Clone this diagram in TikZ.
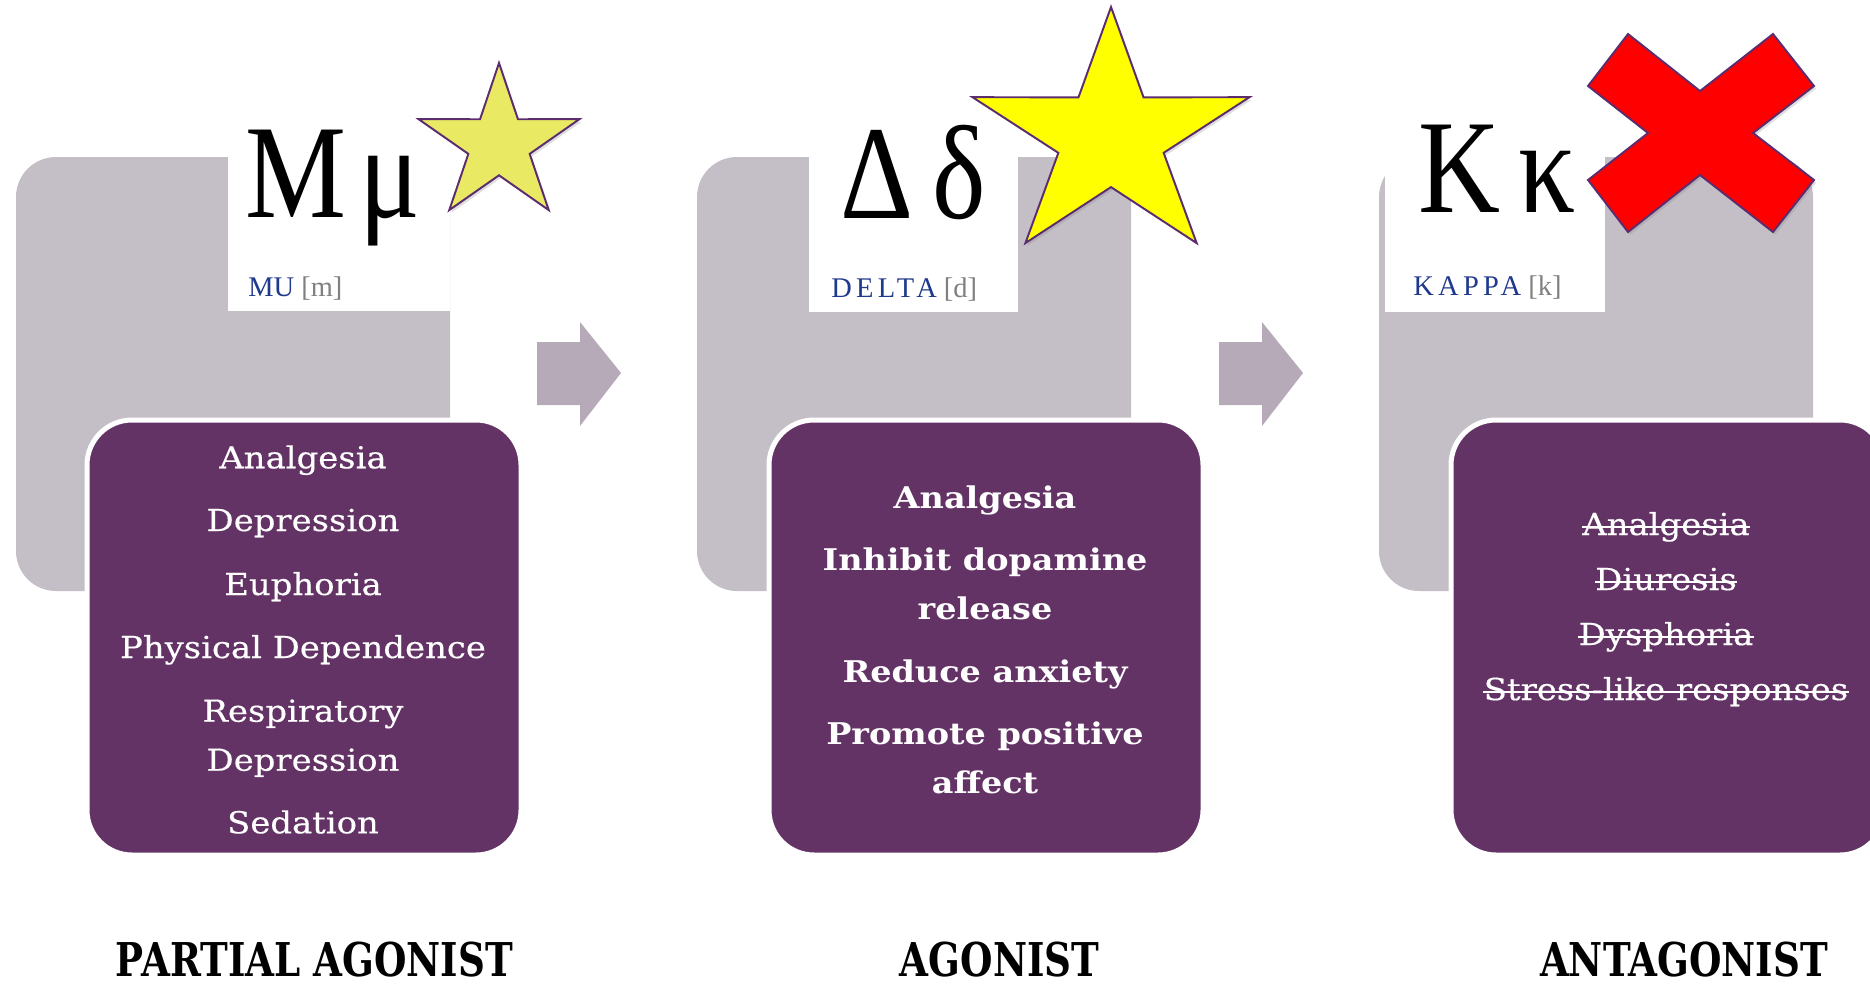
\documentclass[tikz,border=0pt]{standalone}
\usepackage{fontspec}
\setmainfont{DejaVu Serif}
\newfontfamily\slabfont[FakeStretch=1.12, UprightFeatures={FakeBold=0.4}]{DejaVu Serif}
\newfontfamily\greekfont[FakeStretch=0.85]{Liberation Serif}
\newfontfamily\capfont{Liberation Serif}
\newfontfamily\spacedfont[LetterSpace=15]{Liberation Serif}
\newfontfamily\condfont[FakeStretch=0.8]{DejaVu Serif}
\usetikzlibrary{shadows}
\definecolor{greyc}{RGB}{196,190,198}
\definecolor{arrowc}{RGB}{182,170,185}
\definecolor{purplec}{RGB}{100,51,102}
\definecolor{edgec}{RGB}{92,45,110}
\definecolor{staronec}{RGB}{233,233,100}
\definecolor{startwoc}{RGB}{255,255,0}
\definecolor{bluec}{RGB}{31,57,140}
\definecolor{bracketc}{RGB}{128,128,128}
\begin{document}
\begin{tikzpicture}[x=0.2mm, y=0.2mm]
\tikzstyle{every node}+=[inner sep=0pt]
\tikzstyle{greybox}=[fill=greyc, rounded corners=8mm]
\tikzstyle{purplebox}=[fill=purplec, draw=white, line width=1mm, rounded corners=9mm]
\tikzstyle{arrowshape}=[fill=arrowc]
\tikzstyle{greektitle}=[anchor=base, text=black, font=\greekfont\fontsize{76}{80}\selectfont]
\tikzstyle{sublabel}=[anchor=base west, font=\capfont\fontsize{16.2}{18}\selectfont]
\tikzstyle{bodytext}=[anchor=base, text=white, font=\slabfont\fontsize{17.2}{20}\selectfont]
\tikzstyle{boldtext}=[bodytext, font=\slabfont\bfseries\fontsize{17}{20}\selectfont]
\tikzstyle{strikeline}=[draw=white, line width=1.1pt]
\tikzstyle{bottomlabel}=[anchor=base, text=black, text depth=0pt, font=\condfont\bfseries\fontsize{26.5}{30}\selectfont]
\tikzstyle{markshape}=[draw=edgec, line width=1.1pt, line join=miter, drop shadow={opacity=0.25, shadow xshift=1.2pt, shadow yshift=-1.5pt}]
\useasboundingbox (0,0) rectangle (1870,-984);
\clip (0,0) rectangle (1870,-984);
%grey blocks
\fill [greybox] (16,-157) rectangle (450,-591);
\fill [greybox] (697,-157) rectangle (1131,-591);
\fill [greybox] (1379,-157) rectangle (1813,-591);
%title boxes
\fill [white] (228,-120) rectangle (450,-311);
\fill [white] (809,-120) rectangle (1018,-312);
\fill [white] (1385,-120) rectangle (1605,-312);
%purple blocks
\filldraw [purplebox] (87,-420) rectangle (521,-855);
\filldraw [purplebox] (769,-420) rectangle (1203,-855);
\filldraw [purplebox] (1451,-420) rectangle (1885,-855);
%arrows
\fill [arrowshape] (537,-342) -- (580,-342) -- (580,-322) -- (621,-373) -- (580,-426) -- (580,-405) -- (537,-405) -- cycle;
\fill [arrowshape] (1219,-342) -- (1262,-342) -- (1262,-322) -- (1303,-373) -- (1262,-426) -- (1262,-405) -- (1219,-405) -- cycle;
%MU
\node [greektitle] (mu) at (333,-217) {M\hspace{0.1em}μ};
\node [sublabel] (mulbl) at (248,-296.7) {\textcolor{bluec}{MU} \textcolor{bracketc}{[m]}};
\node [bodytext] (mu1) at (303,-468.3) {Analgesia};
\node [bodytext] (mu2) at (303,-531) {Depression};
\node [bodytext] (mu3) at (303,-595) {Euphoria};
\node [bodytext] (mu4) at (303,-658) {Physical Dependence};
\node [bodytext] (mu5) at (303,-721.7) {Respiratory};
\node [bodytext] (mu6) at (303,-770.7) {Depression};
\node [bodytext] (mu7) at (303,-833.3) {Sedation};
%DELTA
\node [greektitle] (delta) at (913,-218) {Δ\hspace{0.14em}δ};
\node [sublabel] (deltalbl) at (831,-297.5) {\textcolor{bluec}{\spacedfont DELTA} \textcolor{bracketc}{[d]}};
\node [boldtext] (delta1) at (985,-508.3) {Analgesia};
\node [boldtext] (delta2) at (985,-570.7) {Inhibit dopamine};
\node [boldtext] (delta3) at (985,-619) {release};
\node [boldtext] (delta4) at (985,-682.7) {Reduce anxiety};
\node [boldtext] (delta5) at (985,-744) {Promote positive};
\node [boldtext] (delta6) at (985,-793.3) {affect};
%KAPPA
\node [greektitle] (kappa) at (1497,-212) {Κ\hspace{0.14em}κ};
\node [sublabel] (kappalbl) at (1413,-295) {\textcolor{bluec}{\spacedfont KAPPA} \textcolor{bracketc}{[k]}};
\node [bodytext] (kappa1) at (1666,-535) {Analgesia};
\node [bodytext] (kappa2) at (1666,-590) {Diuresis};
\node [bodytext] (kappa3) at (1666,-645) {Dysphoria};
\node [bodytext] (kappa4) at (1666,-700) {Stress-like responses};
\draw [strikeline] ([yshift=4.6pt]kappa1.base west) -- ([yshift=4.6pt]kappa1.base east);
\draw [strikeline] ([yshift=4.6pt]kappa2.base west) -- ([yshift=4.6pt]kappa2.base east);
\draw [strikeline] ([yshift=4.6pt]kappa3.base west) -- ([yshift=4.6pt]kappa3.base east);
\draw [strikeline] ([yshift=4.6pt]kappa4.base west) -- ([yshift=4.6pt]kappa4.base east);
%stars and cross
\begin{scope}[shift={(499,-144.3)}, xscale=1.04]
\filldraw [markshape, fill=staronec] (90:81.3) -- (126:31) -- (162:81.3) -- (198:31) -- (234:81.3) -- (270:31) -- (306:81.3) -- (342:31) -- (18:81.3) -- (54:31) -- cycle;
\end{scope}
\begin{scope}[shift={(1111,-137.5)}, xscale=1.116]
\filldraw [markshape, fill=startwoc] (90:130.5) -- (126:49.6) -- (162:130.5) -- (198:49.6) -- (234:130.5) -- (270:49.6) -- (306:130.5) -- (342:49.6) -- (18:130.5) -- (54:49.6) -- cycle;
\end{scope}
\filldraw [markshape, fill=red] (1628,-34) -- (1700,-91) -- (1773,-34) -- (1814,-86) -- (1753,-133) -- (1814,-180) -- (1773,-232) -- (1700,-175) -- (1628,-232) -- (1588,-180) -- (1648,-133) -- (1588,-86) -- cycle;
%receptor action
\node [bottomlabel] (partial) at (314.5,-976) {PARTIAL AGONIST};
\node [bottomlabel] (agonist) at (999.5,-976) {AGONIST};
\node [bottomlabel] (antagonist) at (1684,-976) {ANTAGONIST};
\end{tikzpicture}
\end{document}
